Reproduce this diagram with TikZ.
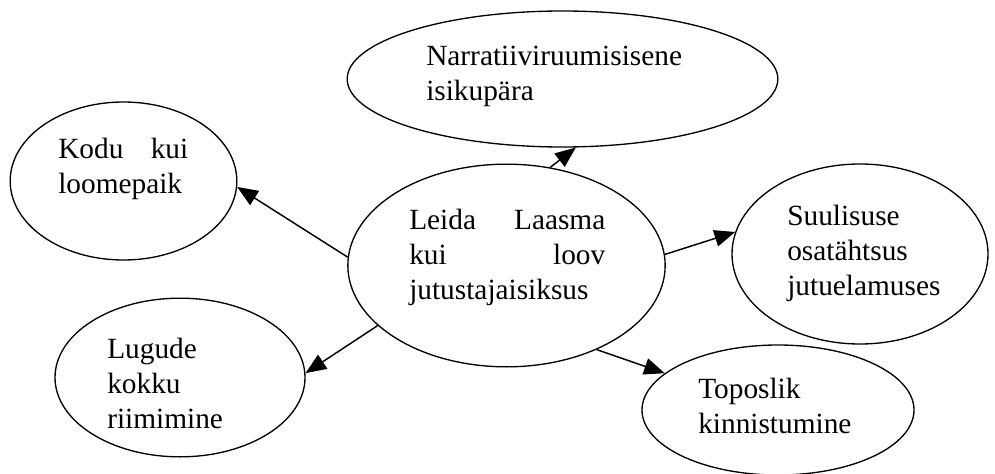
\documentclass[tikz,border=0pt]{standalone}
\usepackage{fontspec}
\setmainfont{Liberation Serif}
\usepackage{tikz}
\usetikzlibrary{shapes.geometric}
\usetikzlibrary{arrows.meta}

\tikzset{
  bubble/.style={draw, ellipse, line width=1pt, inner sep=0pt},
  lbl/.style={inner sep=0pt, align=left, anchor=base west,
    font=\fontsize{22pt}{26.25pt}\selectfont},
  link/.style={-{Triangle[length=15.5pt, width=12.5pt]}, line width=1.1pt}
}

\begin{document}
\begin{tikzpicture}[x=0.75pt, y=-0.75pt]

\useasboundingbox (0,0) rectangle (995,474);

% ellipses
\node (nar) [bubble, minimum width=323pt, minimum height=102pt] at (562.5,79) {};
\node (kodu) [bubble, minimum width=170pt, minimum height=118.5pt] at (123.5,181) {};
\node (cen) [bubble, minimum width=238pt, minimum height=152pt] at (506.5,265.5) {};
\node (sul) [bubble, minimum width=192pt, minimum height=135pt] at (860,254) {};
\node (lug) [bubble, minimum width=187.5pt, minimum height=119pt] at (180,377.5) {};
\node (topo) [bubble, minimum width=204pt, minimum height=97.5pt] at (778,410) {};

% texts
\node (nar-t) [lbl, text width=210pt] at (426,66) {Narratiiviruumisisene\\isikupära};
\node (kodu-t) [lbl, text width=97.5pt] at (58,159) {Kodu\hfill kui\\loomepaik};
\node (cen-t) [lbl, text width=147pt] at (409,229) {Leida\hfill Laasma\\kui\hfill loov\\jutustajaisiksus};
\node (sul-t) [lbl, text width=150pt] at (787,225) {Suulisuse\\osatähtsus\\jutuelamuses};
\node (lug-t) [lbl, text width=120pt] at (107,358) {Lugude\\kokku\\riimimine};
\node (topo-t) [lbl, text width=150pt] at (698,398) {Toposlik\\kinnistumine};

\draw[link] (cen.66) to (nar.-79);
\draw[link] (cen.177) to (kodu.-3.5);
\draw[link] (cen.-155) to (lug.2.5);
\draw[link] (cen.4.5) to (sul.170);
\draw[link] (cen.-43) to (topo.162);

\end{tikzpicture}
\end{document}
